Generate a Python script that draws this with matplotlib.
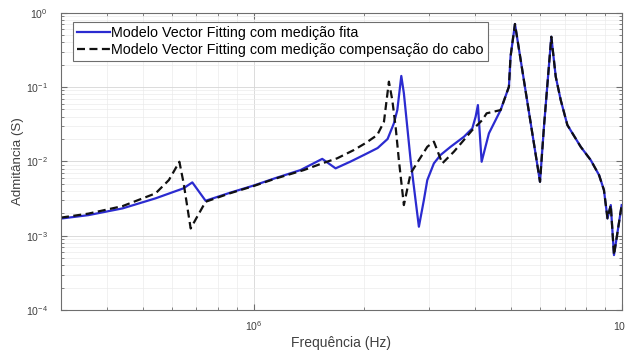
import matplotlib
matplotlib.use("Agg")
import matplotlib.pyplot as plt
from matplotlib.ticker import LogLocator, NullFormatter

# Modelo Vector Fitting com medição fita
freq_fita = [3.0e5, 3.56e5, 4.41e5, 5.42e5, 6.45e5, 6.82e5, 7.41e5, 8.66e5, 1.0e6, 1.148e6,
             1.342e6, 1.537e6, 1.671e6, 1.835e6, 2.015e6, 2.173e6, 2.313e6, 2.406e6, 2.458e6, 2.520e6,
             2.561e6, 2.671e6, 2.755e6, 2.813e6, 2.902e6, 2.965e6, 3.09e6, 3.222e6, 3.43e6, 3.728e6,
             3.929e6, 4.011e6, 4.069e6, 4.165e6, 4.359e6, 4.69e6, 4.94e6, 4.99e6, 5.13e6, 6.0e6,
             6.15e6, 6.33e6, 6.44e6, 6.62e6, 6.83e6, 7.12e6, 7.74e6, 8.24e6, 8.68e6, 8.95e6,
             9.15e6, 9.34e6, 9.53e6, 1.0e7]
adm_fita = [1.70e-3, 1.89e-3, 2.33e-3, 3.18e-3, 4.33e-3, 5.21e-3, 2.95e-3, 3.80e-3, 4.72e-3, 5.96e-3,
            7.64e-3, 1.08e-2, 8.05e-3, 9.94e-3, 1.25e-2, 1.51e-2, 2.0e-2, 3.25e-2, 4.90e-2, 0.141,
            8.23e-2, 1.04e-2, 3.01e-3, 1.32e-3, 3.01e-3, 5.60e-3, 9.4e-3, 1.22e-2, 1.57e-2, 2.14e-2,
            2.78e-2, 3.98e-2, 5.72e-2, 9.88e-3, 2.38e-2, 4.90e-2, 0.101, 0.256, 0.705, 5.31e-3,
            2.92e-2, 0.169, 0.475, 0.138, 6.68e-2, 3.08e-2, 1.57e-2, 1.04e-2, 6.54e-3, 4.11e-3,
            1.71e-3, 2.58e-3, 5.48e-4, 2.58e-3]

# Modelo Vector Fitting com medição compensação do cabo
freq_cabo = [3.0e5, 3.56e5, 4.41e5, 5.42e5, 5.89e5, 6.29e5, 6.46e5, 6.75e5, 7.03e5, 7.41e5,
             8.66e5, 1.0e6, 1.148e6, 1.37e6, 1.537e6, 1.688e6, 1.873e6, 2.015e6, 2.168e6, 2.261e6,
             2.332e6, 2.382e6, 2.432e6, 2.482e6, 2.561e6, 2.671e6, 2.813e6, 2.965e6, 3.09e6, 3.257e6,
             3.502e6, 3.728e6, 3.929e6, 4.183e6, 4.297e6, 4.69e6, 4.94e6, 4.99e6, 5.13e6, 6.0e6,
             6.15e6, 6.33e6, 6.44e6, 6.62e6, 6.83e6, 7.12e6, 7.74e6, 8.24e6, 8.68e6, 8.95e6,
             9.15e6, 9.34e6, 9.53e6, 1.0e7]
adm_cabo = [1.75e-3, 1.98e-3, 2.50e-3, 3.71e-3, 5.60e-3, 9.88e-3, 5.06e-3, 1.25e-3, 1.80e-3, 2.86e-3,
            3.74e-3, 4.65e-3, 5.87e-3, 7.64e-3, 9.4e-3, 1.10e-2, 1.42e-2, 1.76e-2, 2.26e-2, 3.41e-2,
            0.118, 6.68e-2, 2.92e-2, 1.04e-2, 2.58e-3, 6.9e-3, 1.04e-2, 1.57e-2, 1.84e-2, 9.4e-3,
            1.35e-2, 1.94e-2, 2.64e-2, 3.60e-2, 4.43e-2, 4.90e-2, 0.101, 0.256, 0.705, 5.31e-3,
            2.92e-2, 0.169, 0.475, 0.138, 6.68e-2, 3.08e-2, 1.57e-2, 1.04e-2, 6.54e-3, 4.11e-3,
            1.71e-3, 2.58e-3, 5.48e-4, 2.58e-3]

nomes = ["Modelo Vector Fitting com medição fita",
         "Modelo Vector Fitting com medição compensação do cabo"]

plt.rcParams['font.family'] = ['Liberation Sans', 'DejaVu Sans']
plt.rcParams['mathtext.default'] = 'regular'

fig = plt.figure(figsize=(6.25, 3.51), dpi=100)
ax = fig.add_axes([0.0976, 0.1168, 0.8971, 0.847])

ax.loglog(freq_fita, adm_fita, color='#2b2bd0', lw=1.6, label=nomes[0])
ax.loglog(freq_cabo, adm_cabo, color='#111111', lw=1.6, ls=(0, (3.6, 2.0)), label=nomes[1])

ax.set_xlim(3e5, 1e7)
ax.set_ylim(1e-4, 1e0)
ax.xaxis.set_minor_locator(LogLocator(base=10, subs=range(2, 10)))
ax.yaxis.set_minor_locator(LogLocator(base=10, subs=range(2, 10)))
ax.xaxis.set_minor_formatter(NullFormatter())
ax.yaxis.set_minor_formatter(NullFormatter())

ax.set_axisbelow(True)
ax.grid(True, which='major', color='#d6d6d6', lw=0.6)
ax.grid(True, which='minor', color='#ebebeb', lw=0.5)

for s in ax.spines.values():
    s.set_color('#6e6e6e')
    s.set_linewidth(0.8)
ax.tick_params(which='both', direction='in', top=True, right=True, colors='#6e6e6e',
               labelcolor='#404040', labelsize=7.6)
ax.tick_params(which='major', length=4)
ax.tick_params(which='minor', length=2)
ax.tick_params(axis='y', which='major', pad=9.5)
ax.tick_params(axis='x', which='major', pad=6.5)

ax.set_xlabel("Frequência (Hz)", fontsize=10, color='#404040', labelpad=2)
ax.set_ylabel("Admitância (S)", fontsize=9.6, color='#404040', labelpad=1)

leg = ax.legend(loc='upper left', bbox_to_anchor=(0.0219, 0.9677), borderaxespad=0,
                fontsize=10.3, handlelength=2.3, handletextpad=0.1, fancybox=False,
                framealpha=1, edgecolor='#6e6e6e', labelspacing=0.22, borderpad=0.26)
leg.get_frame().set_linewidth(0.8)

fig.savefig("out.png", dpi=100)
